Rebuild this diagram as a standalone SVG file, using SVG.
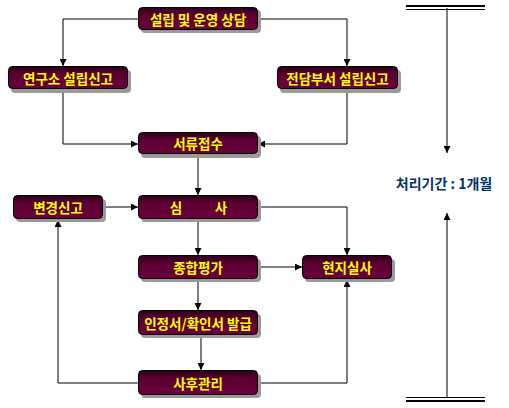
<svg xmlns="http://www.w3.org/2000/svg" width="509" height="408" viewBox="0 0 509 408">
<defs>
<linearGradient id="g" x1="0" y1="0" x2="0" y2="1">
<stop offset="0" stop-color="#2a0018"/>
<stop offset="0.35" stop-color="#5c0032"/>
<stop offset="1" stop-color="#6a003c"/>
</linearGradient>
<marker id="a" viewBox="0 0 10 10" refX="10" refY="5" markerWidth="7" markerHeight="7" markerUnits="userSpaceOnUse" orient="auto">
<path d="M0,0 L10,5 L0,10 Z" fill="#000"/>
</marker>
</defs>
<style>
.box{fill:url(#g);stroke:#000;stroke-width:1}
.sh{fill:#9a9a9a}
.t{font-family:"Noto Sans CJK KR","Noto Sans",sans-serif;font-weight:bold;font-size:13.5px;fill:#ffff00;text-anchor:middle;dominant-baseline:central}
.c{fill:none;stroke:#000;stroke-width:1}
.ca{fill:none;stroke:#000;stroke-width:1;marker-end:url(#a)}
</style>
<rect width="509" height="408" fill="#fff"/>
<g id="connectors">
<path class="ca" d="M139,19 H63 V66"/>
<path class="ca" d="M258,19 H347 V66"/>
<path class="ca" d="M63,89 V144 H138"/>
<path class="ca" d="M347,89 V144 H258"/>
<path class="ca" d="M198,154 V195"/>
<path class="ca" d="M103,207 H138"/>
<path class="ca" d="M258,207 H347 V255"/>
<path class="ca" d="M198,219 V255"/>
<path class="ca" d="M258,267 H302"/>
<path class="ca" d="M198,279 V310"/>
<path class="ca" d="M201,335 V370"/>
<path class="ca" d="M138,383 H58 V220"/>
<path class="ca" d="M258,383 H347 V280"/>
<path class="ca" d="M447,8 V153"/>
<path class="ca" d="M447,397 V213"/>
<line x1="406" y1="6" x2="485" y2="6" stroke="#000" stroke-width="2"/>
<line x1="406" y1="9.5" x2="485" y2="9.5" stroke="#000" stroke-width="1"/>
<line x1="406" y1="397.5" x2="485" y2="397.5" stroke="#000" stroke-width="1"/>
<line x1="406" y1="401" x2="485" y2="401" stroke="#000" stroke-width="2"/>
</g>
<g id="n1"><rect class="sh" x="141" y="10" width="120" height="23" rx="4"/><rect class="box" x="138.5" y="7.5" width="119" height="22" rx="4"/><text class="t" x="198" y="18.5">설립 및 운영 상담</text></g>
<g id="n2"><rect class="sh" x="11" y="70" width="120" height="23" rx="4"/><rect class="box" x="8.5" y="66.5" width="119" height="22" rx="4"/><text class="t" x="68" y="77.5">연구소 설립신고</text></g>
<g id="n3"><rect class="sh" x="280" y="70" width="121" height="23" rx="4"/><rect class="box" x="277.5" y="66.5" width="120" height="22" rx="4"/><text class="t" x="337.5" y="77.5">전담부서 설립신고</text></g>
<g id="n4"><rect class="sh" x="141" y="136" width="120" height="22" rx="4"/><rect class="box" x="138.5" y="132.5" width="119" height="21" rx="4"/><text class="t" x="198" y="143">서류접수</text></g>
<g id="n5"><rect class="sh" x="16" y="199" width="90" height="23" rx="4"/><rect class="box" x="13.5" y="195.5" width="89" height="23" rx="4"/><text class="t" x="58" y="207">변경신고</text></g>
<g id="n6"><rect class="sh" x="141" y="199" width="120" height="23" rx="4"/><rect class="box" x="138.5" y="195.5" width="119" height="23" rx="4"/><text class="t" x="176" y="207">심</text><text class="t" x="221" y="207">사</text></g>
<g id="n7"><rect class="sh" x="141" y="259" width="120" height="23" rx="4"/><rect class="box" x="138.5" y="255.5" width="119" height="23" rx="4"/><text class="t" x="198" y="267">종합평가</text></g>
<g id="n8"><rect class="sh" x="305" y="259" width="90" height="23" rx="4"/><rect class="box" x="302.5" y="255.5" width="89" height="23" rx="4"/><text class="t" x="347" y="267">현지실사</text></g>
<g id="n9"><rect class="sh" x="141" y="314" width="120" height="24" rx="4"/><rect class="box" x="138.5" y="310.5" width="119" height="24" rx="4"/><text class="t" x="198" y="322.5">인정서/확인서 발급</text></g>
<g id="n10"><rect class="sh" x="141" y="374" width="120" height="24" rx="4"/><rect class="box" x="138.5" y="370.5" width="119" height="24" rx="4"/><text class="t" x="198" y="382.5">사후관리</text></g>
<g id="period"><text x="444" y="183" font-family="'Noto Sans CJK KR','Noto Sans',sans-serif" font-weight="bold" font-size="14px" fill="#003366" text-anchor="middle" dominant-baseline="central">처리기간 : 1개월</text></g>
</svg>
